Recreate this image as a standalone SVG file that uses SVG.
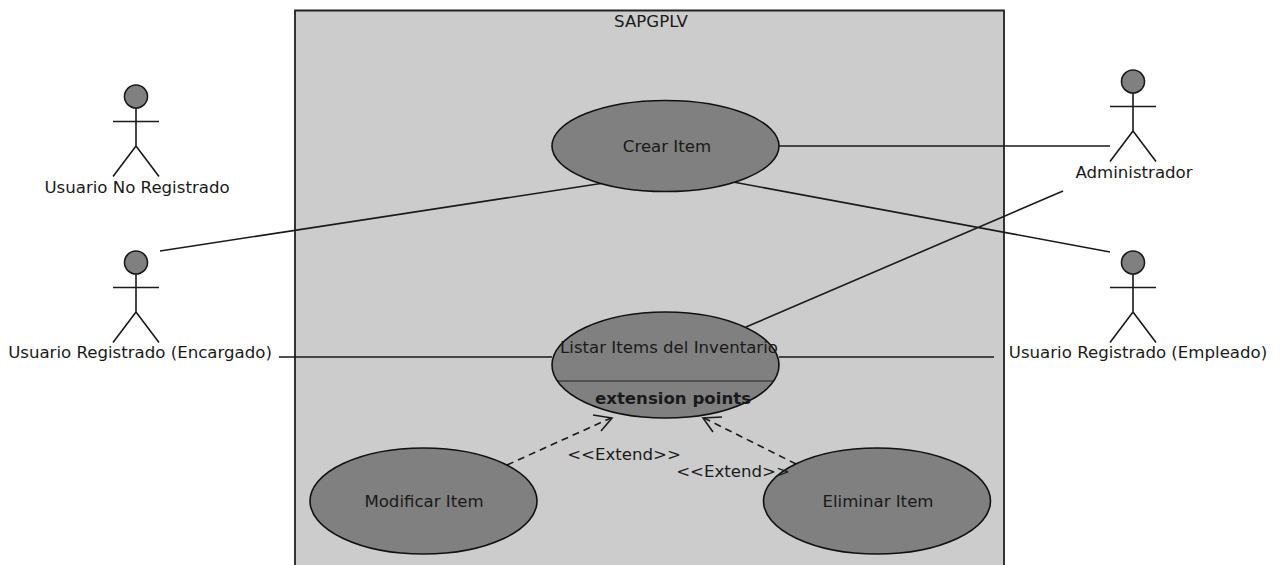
<svg xmlns="http://www.w3.org/2000/svg" width="1281" height="565" viewBox="0 0 1281 565">
<style>
text{font-family:"DejaVu Sans",sans-serif;font-size:16.6px;fill:#1a1a1a;text-anchor:middle}
.uc{fill:#808080;stroke:#111;stroke-width:1.6}
.l{stroke:#1a1a1a;stroke-width:1.6;fill:none}
.h{fill:#808080;stroke:#1a1a1a;stroke-width:1.6}
.d{stroke:#1a1a1a;stroke-width:1.6;fill:none;stroke-dasharray:7 5}
</style>
<defs>
<g id="actor"><circle class="h" cx="0" cy="11.500" r="11.500"/><path class="l" d="M0 23V61M-23 36.500H23M0 61L-23 91.500M0 61L23 91.500"/></g>
</defs>
<rect width="1281" height="565" fill="#fff"/>
<g id="system"><path d="M295 565V10.500H1004V565" fill="#cccccc" stroke="#222" stroke-width="1.800"/><text x="651" y="27">SAPGPLV</text></g>
<g id="connectors">
<path class="l" d="M779 146H1110M160 251L604 183M733 182L1110 252M746 327L1063 191M279 357H552M779 357H994"/>
<path class="d" d="M507 465L611 418"/><path class="l" d="M593 415L612 418L601 431"/>
<path class="d" d="M796 464L704 418"/><path class="l" d="M722 417L703 418L713 432"/>
</g>
<g id="crear"><ellipse class="uc" cx="665.500" cy="146" rx="113.500" ry="45.500"/><text x="667" y="152">Crear Item</text></g>
<g id="listar"><ellipse class="uc" cx="665.500" cy="365" rx="113.500" ry="53"/><path d="M558 381H773" stroke="#222" stroke-width="1.200" fill="none"/><text x="669" y="353">Listar Items del Inventario</text><text x="673" y="404" style="font-weight:bold">extension points</text></g>
<g id="modificar"><ellipse class="uc" cx="423.500" cy="501" rx="113.500" ry="53"/><text x="424" y="507">Modificar Item</text></g>
<g id="eliminar"><ellipse class="uc" cx="877" cy="501" rx="113.500" ry="53"/><text x="878" y="507">Eliminar Item</text></g>
<g id="e1"><text x="624" y="460">&lt;&lt;Extend&gt;&gt;</text></g>
<g id="e2"><text x="733" y="477">&lt;&lt;Extend&gt;&gt;</text></g>
<g id="a1"><use href="#actor" x="136" y="85"/><text x="137" y="193">Usuario No Registrado</text></g>
<g id="a2"><use href="#actor" x="136" y="251"/><text x="140" y="358">Usuario Registrado (Encargado)</text></g>
<g id="a3"><use href="#actor" x="1133" y="70"/><text x="1134" y="178">Administrador</text></g>
<g id="a4"><use href="#actor" x="1133" y="251"/><text x="1138" y="358">Usuario Registrado (Empleado)</text></g>
</svg>
